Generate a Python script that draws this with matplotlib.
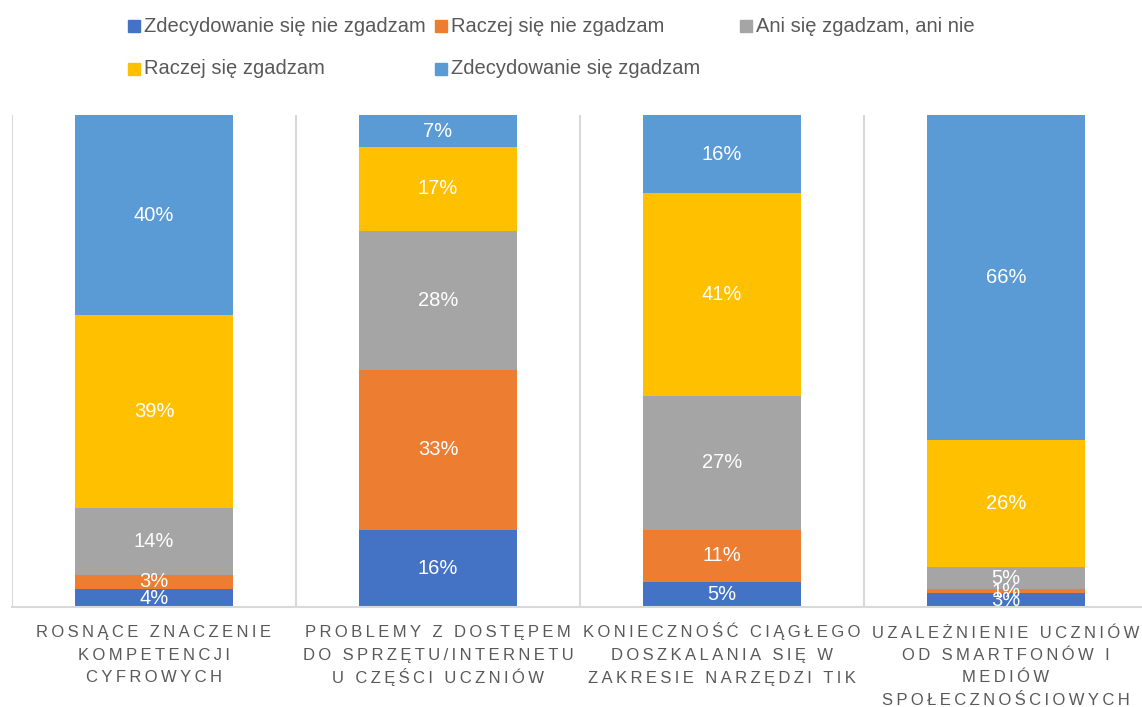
import matplotlib
matplotlib.use("Agg")
from matplotlib import pyplot as plt
import matplotlib.patches as mpatches
from matplotlib.transforms import blended_transform_factory
import numpy as np

categories = [
    "ROSNĄCE ZNACZENIE\nKOMPETENCJI\nCYFROWYCH",
    "PROBLEMY Z DOSTĘPEM\nDO SPRZĘTU/INTERNETU\nU CZĘŚCI UCZNIÓW",
    "KONIECZNOŚĆ CIĄGŁEGO\nDOSZKALANIA SIĘ W\nZAKRESIE NARZĘDZI TIK",
    "UZALEŻNIENIE UCZNIÓW\nOD SMARTFONÓW I\nMEDIÓW\nSPOŁECZNOŚCIOWYCH",
]
series = ["Zdecydowanie się nie zgadzam", "Raczej się nie zgadzam",
          "Ani się zgadzam, ani nie", "Raczej się zgadzam",
          "Zdecydowanie się zgadzam"]
# percentages per series, one value per category
strongly_disagree = [3.6, 15.7, 5.1, 2.8]
disagree = [3.0, 32.6, 10.6, 0.8]
neutral = [13.6, 28.3, 27.2, 4.6]
agree = [39.3, 16.9, 41.3, 25.8]
strongly_agree = [40.5, 6.6, 15.8, 66.0]
colors = ["#4472C4", "#ED7D31", "#A5A5A5", "#FFC000", "#5B9BD5"]

values = [strongly_disagree, disagree, neutral, agree, strongly_agree]

W, H = 1142, 707
fig = plt.figure(figsize=(W / 100, H / 100), dpi=100)
ax = fig.add_axes([12 / W, 1 - 607 / H, 1136 / W, 492 / H])

x = np.arange(len(categories))
bottom = np.zeros(len(categories))
for name, vals, c in zip(series, values, colors):
    vals = np.array(vals)
    ax.bar(x, vals, bottom=bottom, width=0.556, color=c, label=name, zorder=2)
    for xi, b, v in zip(x, bottom, vals):
        ax.text(xi, b + v / 2, f"{round(v):d}%", ha="center", va="center",
                color="white", fontsize=14.5, family="Liberation Sans", zorder=3)
    bottom += vals

ax.set_xlim(-0.5, len(categories) - 0.5)
ax.set_ylim(0, bottom.max())
ax.set_yticks([])
ax.set_xticks([])
for s in ["top", "right", "left"]:
    ax.spines[s].set_visible(False)
ax.spines["bottom"].set_color("#D9D9D9")
ax.spines["bottom"].set_linewidth(1.5)
for sep in np.arange(len(categories) + 1) - 0.5:
    ax.axvline(sep, color="#D9D9D9", lw=1.5, zorder=1)

# category labels with letter spacing, one line at a time
def spaced(line):
    return "\u2009".join(line)

trans = blended_transform_factory(ax.transData, fig.transFigure)
for xi, cat in zip(x, categories):
    for i, line in enumerate(cat.split("\n")):
        y_px = 637.5 + 22.5 * i
        ax.text(xi, 1 - y_px / H, spaced(line), transform=trans,
                ha="center", va="baseline", fontsize=12, color="#595959",
                family=["Liberation Sans", "DejaVu Sans"], clip_on=False)

# legend, laid out like the original (two rows)
leg_pos = [(128, 26), (435, 26), (740, 26), (128, 69), (435, 69)]
for (px, py), name, c in zip(leg_pos, series, colors):
    fig.patches.append(mpatches.Rectangle((px / W, 1 - (py + 6) / H), 12 / W, 12 / H,
                                          transform=fig.transFigure, color=c))
    fig.text((px + 16) / W, 1 - py / H, name, ha="left", va="center",
             fontsize=14.5, color="#595959", family="Liberation Sans")

fig.savefig("out.png", dpi=100)
